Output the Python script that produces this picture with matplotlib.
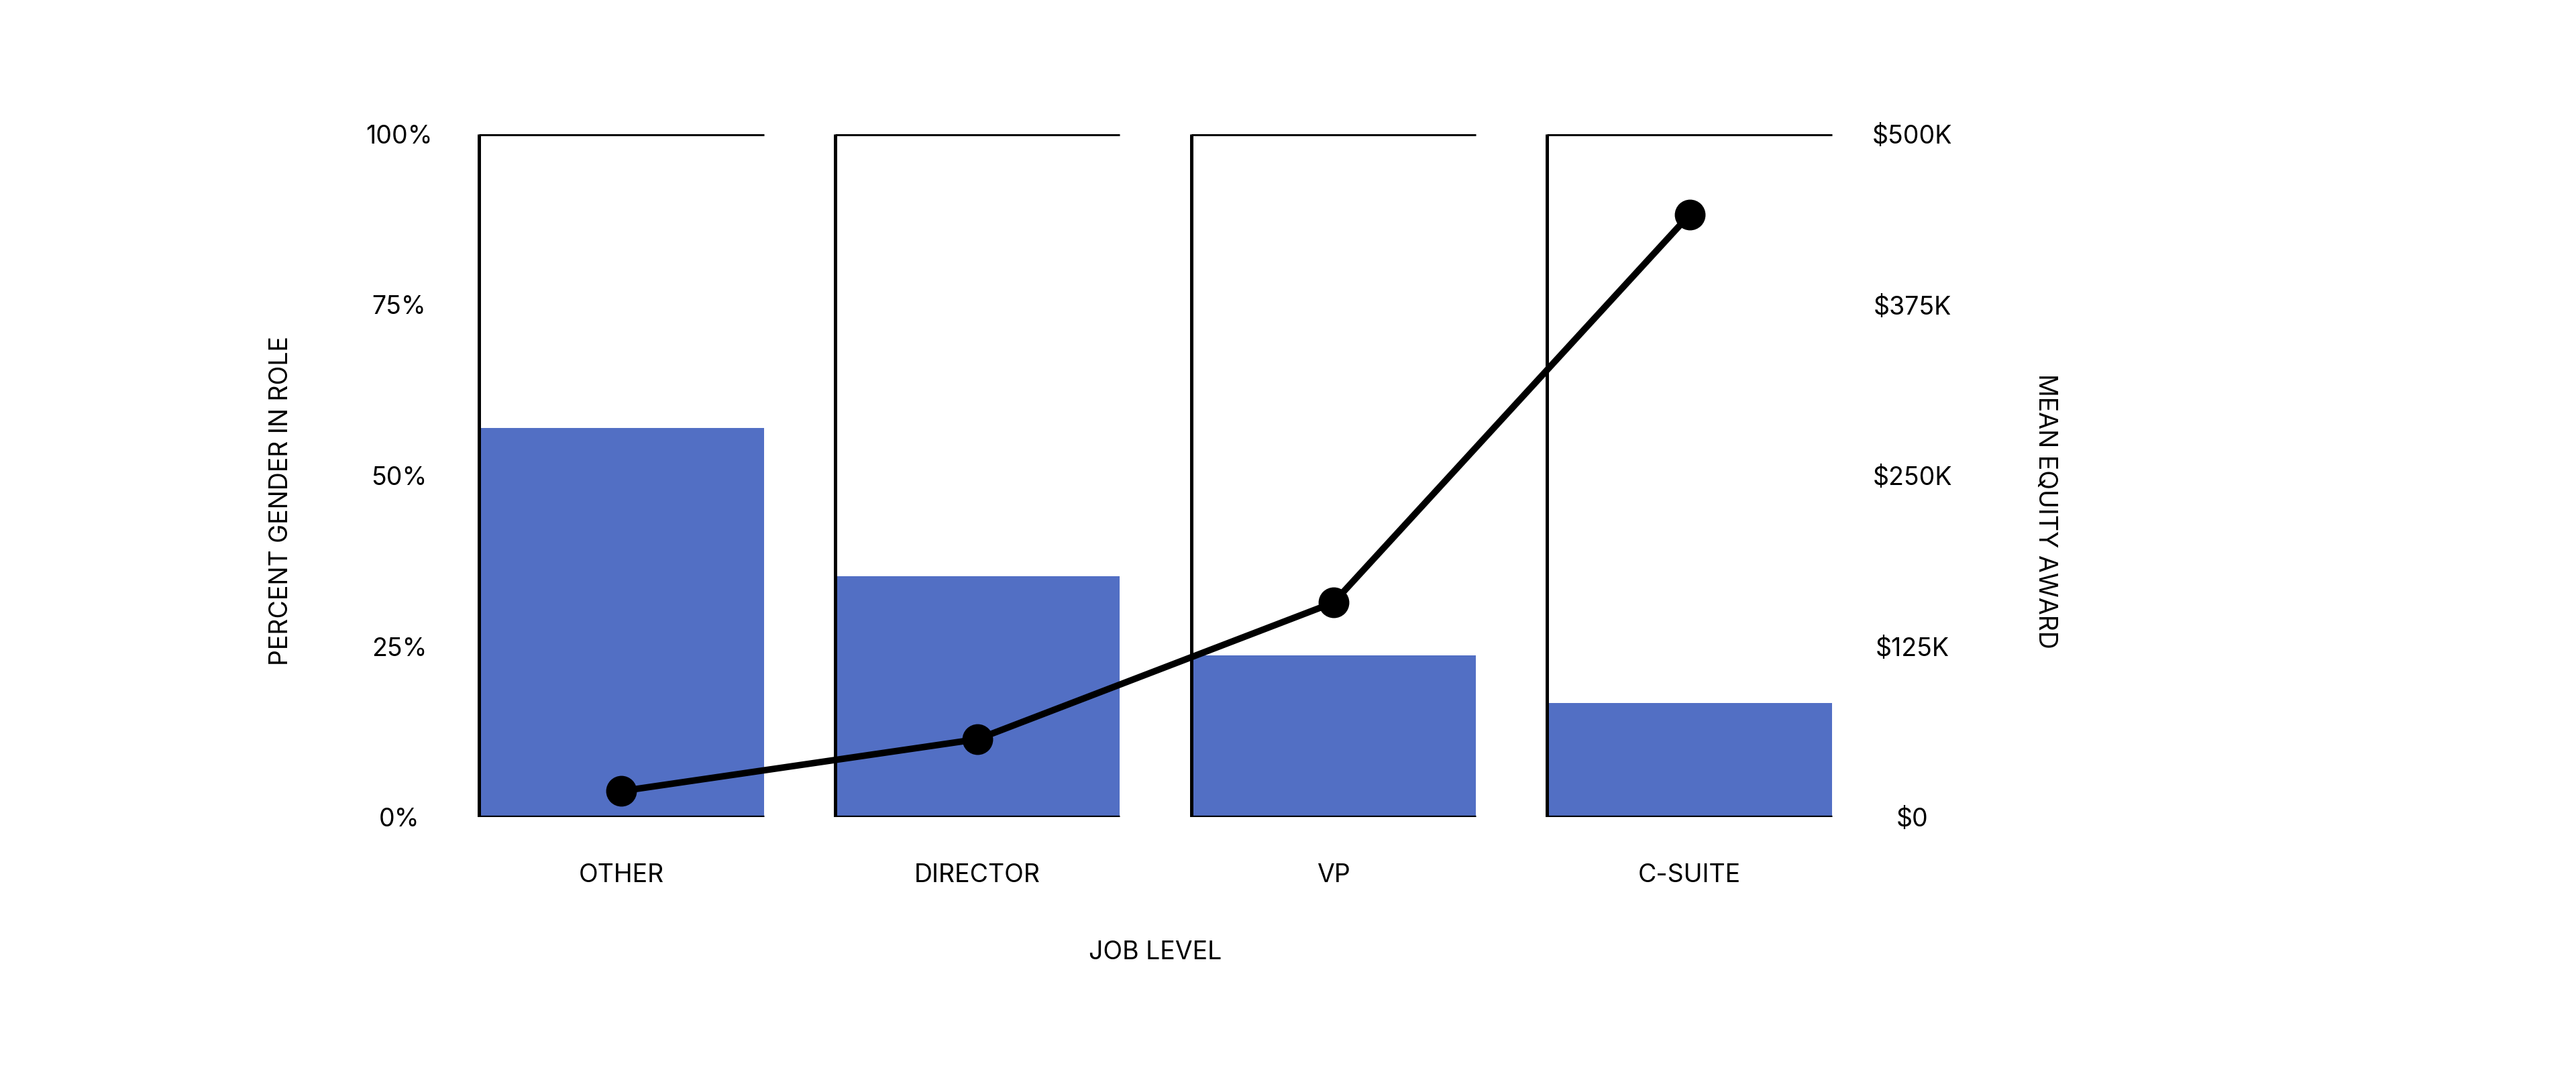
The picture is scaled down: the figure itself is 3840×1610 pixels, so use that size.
import matplotlib
matplotlib.use("Agg")
import matplotlib.pyplot as plt
import numpy as np

# ---- data ----
job_levels = ["OTHER", "DIRECTOR", "VP", "C-SUITE"]
pct_gender = [57.0, 35.3, 23.7, 16.7]            # percent
mean_equity = [19000, 57000, 157000, 441000]     # dollars
left_ticks = [0, 25, 50, 75, 100]
left_labels = ["0%", "25%", "50%", "75%", "100%"]
right_ticks = [0, 125000, 250000, 375000, 500000]
right_labels = ["$0", "$125K", "$250K", "$375K", "$500K"]

plt.rcParams['font.family'] = ['Inter', 'DejaVu Sans']

BAR_COLOR = "#526FC4"
FS = 27
W = 0.8

fig = plt.figure(figsize=(38.4, 16.1), dpi=100)
ax = fig.add_axes([661/3840, 1 - 1218/1610, (2784-661)/3840, (1218-200)/1610])
x = np.arange(len(job_levels))

ax.bar(x, pct_gender, width=W, color=BAR_COLOR, zorder=2, linewidth=0)
ax.vlines(x - W/2, 0, 100, color="black", lw=3.6, zorder=3)
ax.hlines([100]*len(x), x - W/2, x + W/2, color="black", lw=3.6, zorder=3)
ax.hlines([0]*len(x), x - W/2, x + W/2, color="black", lw=3.8, zorder=3)

ax.set_xlim(-0.5, len(x) - 0.5)
ax.set_ylim(0, 100)
for s in ax.spines.values():
    s.set_visible(False)
ax.set_xticks(x)
ax.set_xticklabels(job_levels, fontsize=FS)
ax.set_yticks(left_ticks)
ax.set_yticklabels(left_labels, fontsize=FS, ha="center")
ax.tick_params(axis="x", length=0, pad=50)
ax.tick_params(axis="y", length=0, pad=47.5)
ax.set_xlabel("JOB LEVEL", fontsize=FS)
ax.xaxis.set_label_coords(0.5, (1218 - 1420) / 1018)
ax.set_ylabel("PERCENT GENDER IN ROLE", fontsize=FS)
ax.yaxis.set_label_coords((419 - 661) / 2123, (1218 - 747) / 1018)
for t in [ax.xaxis.label, ax.yaxis.label]:
    t.set_va("center")
    t.set_ha("center")

ax2 = ax.twinx()
ax2.set_zorder(ax.get_zorder() + 1)
ax2.patch.set_visible(False)
ax2.plot(x, mean_equity, color="black", lw=7, marker="o", markersize=32,
         solid_capstyle="round", zorder=5)
ax2.set_ylim(0, 500000)
for s in ax2.spines.values():
    s.set_visible(False)
ax2.set_yticks(right_ticks)
ax2.set_yticklabels(right_labels, fontsize=FS, ha="center")
ax2.tick_params(axis="y", length=0, pad=48)
ax2.set_ylabel("MEAN EQUITY AWARD", fontsize=FS, rotation=-90)
ax2.yaxis.set_label_coords((3049 - 661) / 2123, (1218 - 762) / 1018)
ax2.yaxis.label.set_va("center")
ax2.yaxis.label.set_ha("center")

fig.savefig("out.png", dpi=100, facecolor="white")
